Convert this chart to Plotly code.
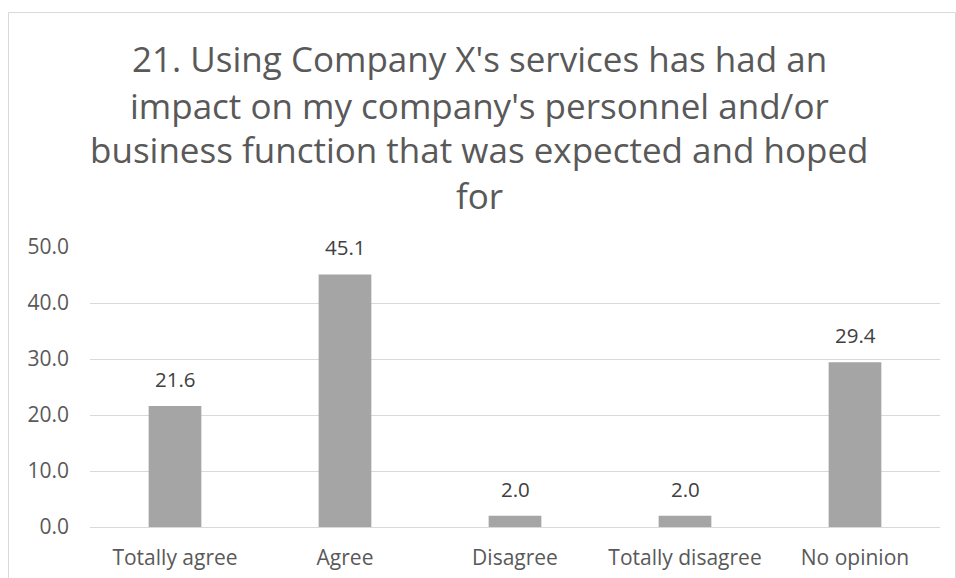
import plotly.graph_objects as go

categories = ["Totally agree", "Agree", "Disagree", "Totally disagree", "No opinion"]
values = [21.6, 45.1, 2.0, 2.0, 29.4]
title_lines = [
    "21. Using Company X's services has had an",
    "impact on my company's personnel and/or",
    "business function that was expected and hoped",
    "for",
]
y_ticks = [0, 10, 20, 30, 40, 50]

W, H = 956, 578
L, R, T, B = 90, 16, 247, 51
PW, PH = W - L - R, H - T - B

def px_x(x):
    return (x - L) / PW

def px_y(y):
    return (H - B - y) / PH

FONT = "Open Sans"

fig = go.Figure()
fig.add_trace(go.Bar(
    x=categories, y=values,
    marker=dict(color="#A5A5A5", line=dict(width=0)),
    hoverinfo="skip",
))

annotations = []
for c, v in zip(categories, values):
    annotations.append(dict(
        x=c, y=v, xref="x", yref="y", text=f"{v:.1f}", showarrow=False,
        yanchor="bottom", yshift=11,
        font=dict(family=FONT, size=20.5, color="#404040"),
    ))
line_centers = [59, 105, 150, 195]
for t, yc in zip(title_lines, line_centers):
    annotations.append(dict(
        x=px_x(479), y=px_y(yc), xref="paper", yref="paper", text=t,
        showarrow=False, xanchor="center", yanchor="middle",
        font=dict(family=FONT, size=35, color="#595959"),
    ))

fig.update_layout(
    width=W, height=H, autosize=False,
    margin=dict(l=L, r=R, t=T, b=B, pad=0),
    paper_bgcolor="white", plot_bgcolor="white",
    showlegend=False,
    bargap=0.69,
    annotations=annotations,
    shapes=[dict(
        type="rect", xref="paper", yref="paper",
        x0=px_x(8.5), x1=px_x(955.5), y0=px_y(700), y1=px_y(12.5),
        line=dict(color="#D9D9D9", width=1), fillcolor="rgba(0,0,0,0)", layer="below",
    )],
    xaxis=dict(
        showgrid=False, showline=False, zeroline=False, ticks="",
        tickfont=dict(family=FONT, size=21, color="#595959"),
        ticklabelstandoff=16, automargin=False,
    ),
    yaxis=dict(
        range=[0, 50], tickvals=y_ticks, tickformat=".1f",
        showgrid=True, gridcolor="#D9D9D9", gridwidth=1,
        zeroline=True, zerolinecolor="#D9D9D9", zerolinewidth=1,
        showline=False, ticks="",
        tickfont=dict(family=FONT, size=21, color="#595959"),
        ticklabelstandoff=20, automargin=False,
    ),
)

fig.write_html("out.html", config={"displayModeBar": False},
               post_script="document.body.style.margin='0';")
